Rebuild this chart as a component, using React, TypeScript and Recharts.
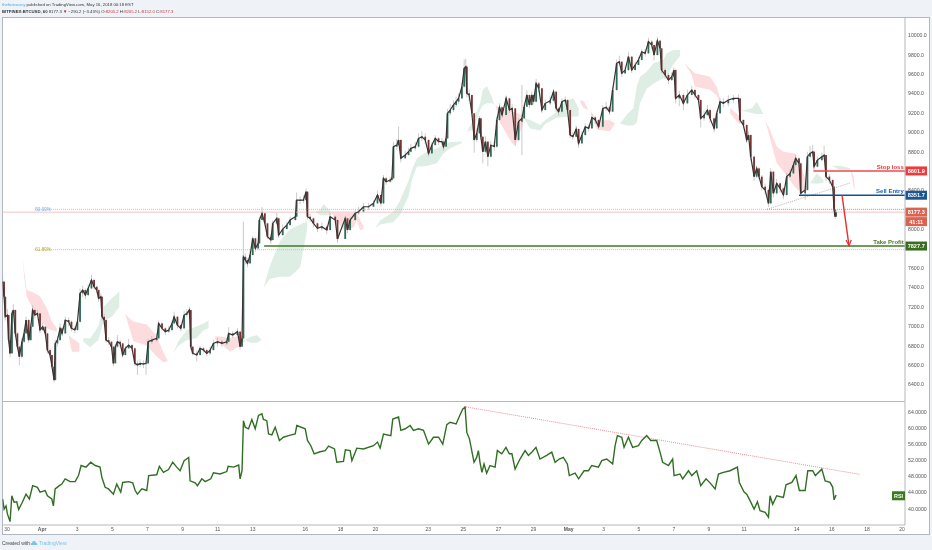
import React from 'react';
import { ComposedChart, Line, Bar, Area, XAxis, YAxis, ReferenceDot } from 'recharts';

// ---- time axis (days since 30 March) ----
const tickDays = [0, 2, 4, 6, 8, 10, 12, 14, 17, 19, 21, 24, 26, 28, 30, 32, 34, 36, 38, 40, 42, 45, 47, 49, 51];
const tickLabels = ['30', 'Apr', '3', '5', '7', '9', '11', '13', '16', '18', '20', '23', '25', '27', '29', 'May', '3', '5', '7', '9', '11', '14', '16', '18', '20'];
const priceTicks = [6400, 6600, 6800, 7000, 7200, 7400, 7600, 8000, 8400, 8800, 9000, 9200, 9400, 9600, 9800, 10000];
const rsiTicks = [40, 44, 48, 52, 56, 60, 64];

// ---- candles ----
const candleDays = [
  -0.25, -0.17, -0.1, 0.02, 0.09, 0.17, 0.28, 0.36, 0.47, 0.59,
  0.7, 0.85, 0.97, 1.08, 1.23, 1.35, 1.46, 1.58, 1.73, 1.88,
  2.03, 2.18, 2.3, 2.45, 2.56, 2.68, 2.75, 2.87, 3.02, 3.13,
  3.32, 3.51, 3.67, 3.86, 4.01, 4.16, 4.31, 4.46, 4.62, 4.81,
  4.96, 5.11, 5.22, 5.34, 5.41, 5.53, 5.64, 5.79, 5.95, 6.06,
  6.17, 6.29, 6.44, 6.59, 6.74, 6.93, 7.12, 7.28, 7.43, 7.58,
  7.77, 7.92, 8.04, 8.25, 8.53, 8.64, 8.83, 9.02, 9.21, 9.4,
  9.52, 9.71, 9.9, 10.09, 10.24, 10.39, 10.47, 10.58, 10.81, 11.0,
  11.19, 11.38, 11.57, 11.76, 11.99, 12.24, 12.52, 12.63, 12.86, 13.13,
  13.28, 13.39, 13.47, 13.58, 13.7, 13.85, 14.0, 14.15, 14.31, 14.38,
  14.53, 14.69, 14.84, 15.03, 15.14, 15.37, 15.48, 15.71, 15.94, 16.13,
  16.43, 16.5, 16.7, 16.89, 17.04, 17.12, 17.27, 17.46, 17.69, 17.94,
  18.22, 18.41, 18.7, 18.83, 19.27, 19.4, 19.55, 19.84, 20.03, 20.31,
  20.6, 20.88, 21.11, 21.3, 21.45, 21.6, 21.83, 21.93, 22.02, 22.21,
  22.31, 22.44, 22.69, 22.88, 23.01, 23.26, 23.45, 23.64, 23.83, 24.02,
  24.21, 24.4, 24.59, 24.78, 24.87, 25.02, 25.1, 25.25, 25.44, 25.59,
  25.73, 25.92, 26.05, 26.14, 26.2, 26.33, 26.49, 26.62, 26.77, 26.92,
  27.0, 27.11, 27.26, 27.4, 27.57, 27.76, 27.91, 28.06, 28.21, 28.44,
  28.63, 28.78, 28.96, 29.15, 29.34, 29.47, 29.62, 29.77, 29.9, 30.0,
  30.15, 30.3, 30.48, 30.67, 30.95, 31.14, 31.29, 31.43, 31.62, 31.81,
  31.94, 32.09, 32.24, 32.43, 32.57, 32.76, 32.95, 33.14, 33.33, 33.52,
  33.71, 33.95, 34.14, 34.33, 34.51, 34.74, 34.89, 35.03, 35.22, 35.41,
  35.6, 35.79, 35.98, 36.17, 36.36, 36.55, 36.74, 36.87, 37.06, 37.21,
  37.3, 37.5, 37.69, 37.88, 38.0, 38.1, 38.31, 38.54, 38.77, 39.02,
  39.2, 39.4, 39.53, 39.72, 39.91, 40.06, 40.29, 40.44, 40.63, 40.82,
  41.1, 41.39, 41.68, 41.77, 41.96, 42.15, 42.25, 42.38, 42.57, 42.72,
  42.85, 43.01, 43.2, 43.39, 43.52, 43.67, 43.86, 44.05, 44.24, 44.43,
  44.62, 44.81, 44.94, 45.13, 45.23, 45.48, 45.61, 45.76, 45.91, 45.99,
  46.18, 46.43, 46.56, 46.67, 46.86, 47.05, 47.13, 47.19, 47.24,
];
const candleCloses = [
  7460, 7305, 7099, 7116, 6858, 6721, 7133, 7168, 6927, 6790,
  6687, 6841, 6927, 7065, 6858, 6996, 7168, 7116, 7133, 6962,
  6996, 6927, 6755, 6704, 6583, 6446, 6824, 6858, 6979, 6927,
  7065, 7047, 6979, 6962, 7047, 7340, 7374, 7322, 7391, 7477,
  7408, 7374, 7288, 7305, 7099, 7065, 6858, 6841, 6790, 6618,
  6790, 6841, 6824, 6704, 6773, 6807, 6773, 6618, 6601, 6618,
  6611, 6618, 6841, 6858, 6876, 7030, 6979, 6945, 6962, 7030,
  7099, 7013, 6979, 7116, 7133, 7168, 6790, 6721, 6704, 6773,
  6755, 6721, 6755, 6824, 6841, 6824, 6841, 6927, 6910, 6945,
  6790, 6876, 7717, 7683, 7649, 7735, 7907, 7803, 7855, 8096,
  8165, 8061, 7924, 7890, 8061, 8113, 7941, 8003, 8044, 8096,
  8130, 8302, 8302, 8302, 8388, 8130, 8113, 8062, 8010, 8027,
  7993, 8130, 8096, 7900, 8113, 7993, 8096, 8165, 8182, 8233,
  8233, 8268, 8354, 8268, 8526, 8491, 8508, 8526, 8852, 8869,
  8921, 8732, 8766, 8800, 8835, 8852, 8938, 8955, 8921, 8783,
  8869, 8938, 8904, 8904, 8852, 8938, 9196, 9230, 9282, 9316,
  9350, 9471, 9660, 9677, 9402, 9385, 9196, 8921, 8990, 9144,
  8955, 8800, 8904, 8749, 8869, 8852, 9127, 9258, 9179, 9350,
  9230, 9247, 8921, 9110, 9144, 9264, 9385, 9282, 9385, 9316,
  9505, 9454, 9230, 9299, 9326, 9419, 9247, 9213, 9316, 9333,
  9230, 8972, 8955, 9034, 8886, 8972, 9058, 9041, 9154, 9127,
  9058, 9247, 9258, 9213, 9436, 9711, 9728, 9608, 9642, 9780,
  9642, 9694, 9746, 9831, 9814, 9935, 9900, 9797, 9945, 9866,
  9642, 9591, 9539, 9574, 9642, 9350, 9385, 9299, 9385, 9436,
  9385, 9333, 9144, 9178, 9230, 9144, 9041, 9196, 9316, 9299,
  9333, 9350, 9350, 9127, 9075, 8921, 8972, 8749, 8543, 8628,
  8543, 8440, 8405, 8268, 8594, 8371, 8474, 8422, 8354, 8543,
  8577, 8663, 8732, 8680, 8371, 8405, 8749, 8783, 8800, 8646,
  8714, 8749, 8766, 8543, 8508, 8440, 8199, 8130, 8177,
];
const candleHighs = [
  7530, 7470, 7310, 7180, 7120, 6870, 7160, 7230, 7175, 6940,
  6800, 6880, 6970, 7100, 7075, 7030, 7215, 7180, 7170, 7140,
  7040, 7000, 6935, 6770, 6710, 6590, 6860, 6900, 7030, 6990,
  7100, 7090, 7060, 7000, 7080, 7390, 7420, 7390, 7430, 7530,
  7490, 7420, 7380, 7340, 7310, 7130, 7070, 6890, 6850, 6800,
  6820, 6910, 6860, 6830, 6800, 6870, 6815, 6780, 6650, 6660,
  6650, 6640, 6870, 6900, 6930, 7060, 7040, 6990, 7000, 7060,
  7150, 7105, 7020, 7160, 7180, 7200, 7170, 6800, 6750, 6800,
  6790, 6765, 6790, 6860, 6880, 6860, 6880, 6990, 6950, 6980,
  6950, 6900, 8080, 7750, 7700, 7780, 7930, 7915, 7880, 8130,
  8230, 8175, 8070, 7950, 8090, 8170, 8120, 8050, 8080, 8130,
  8170, 8380, 8340, 8350, 8420, 8395, 8160, 8120, 8070, 8070,
  8040, 8170, 8140, 8100, 8140, 8120, 8130, 8200, 8230, 8270,
  8270, 8300, 8400, 8360, 8560, 8540, 8540, 8550, 8900, 8930,
  9060, 8930, 8810, 8840, 8880, 8900, 8990, 9010, 8990, 8930,
  8900, 8970, 8950, 8940, 8915, 8960, 9240, 9290, 9330, 9370,
  9400, 9510, 9752, 9760, 9680, 9440, 9390, 9200, 9040, 9170,
  9150, 8960, 8960, 8910, 8910, 8900, 9160, 9300, 9270, 9380,
  9355, 9290, 9250, 9150, 9488, 9300, 9430, 9390, 9420, 9390,
  9550, 9520, 9460, 9340, 9370, 9440, 9425, 9260, 9350, 9370,
  9340, 9235, 9000, 9070, 9040, 9010, 9090, 9080, 9190, 9170,
  9135, 9280, 9310, 9270, 9470, 9750, 9790, 9735, 9680, 9830,
  9785, 9730, 9780, 9860, 9860, 9975, 9950, 9905, 9985, 9950,
  9870, 9660, 9610, 9620, 9670, 9650, 9430, 9400, 9440, 9480,
  9450, 9395, 9340, 9220, 9280, 9240, 9150, 9230, 9350, 9350,
  9380, 9385, 9390, 9355, 9135, 9085, 9010, 8980, 8760, 8660,
  8640, 8560, 8470, 8420, 8630, 8600, 8520, 8490, 8430, 8580,
  8620, 8700, 8770, 8740, 8690, 8450, 8800, 8860, 8870, 8810,
  8750, 8790, 8860, 8770, 8570, 8520, 8450, 8210, 8205,
];
const candleLows = [
  7400, 7280, 7060, 7040, 6820, 6680, 6720, 7100, 6890, 6760,
  6600, 6670, 6830, 6920, 6830, 6850, 6990, 7080, 7100, 6930,
  6950, 6900, 6720, 6680, 6560, 6420, 6440, 6790, 6850, 6900,
  6920, 7000, 6950, 6930, 6955, 7040, 7300, 7280, 7310, 7380,
  7380, 7340, 7250, 7270, 7060, 7020, 6830, 6810, 6760, 6590,
  6620, 6780, 6780, 6680, 6700, 6770, 6750, 6590, 6500, 6580,
  6570, 6500, 6610, 6820, 6840, 6870, 6950, 6910, 6930, 6950,
  7020, 6980, 6950, 6975, 7100, 7120, 6760, 6700, 6640, 6700,
  6730, 6690, 6710, 6750, 6790, 6790, 6800, 6835, 6880, 6900,
  6760, 6785, 6870, 7640, 7610, 7645, 7730, 7770, 7790, 7850,
  8090, 8030, 7900, 7850, 7885, 8050, 7910, 7930, 8000, 8040,
  8090, 8125, 8260, 8270, 8290, 8100, 8080, 8020, 7970, 7990,
  7950, 7985, 8060, 7860, 7900, 7960, 7985, 8090, 8150, 8170,
  8200, 8230, 8260, 8240, 8260, 8460, 8480, 8490, 8520, 8820,
  8860, 8690, 8730, 8760, 8790, 8810, 8845, 8910, 8880, 8750,
  8780, 8860, 8870, 8870, 8810, 8845, 8930, 9170, 9210, 9260,
  9290, 9340, 9460, 9600, 9360, 9320, 9160, 8790, 8900, 8980,
  8920, 8680, 8790, 8650, 8740, 8810, 8845, 9120, 9150, 9175,
  9200, 9210, 8860, 8910, 8766, 9140, 9260, 9250, 9275, 9290,
  9310, 9420, 9200, 9225, 9280, 9320, 9210, 9170, 9205, 9300,
  9190, 8940, 8920, 8950, 8840, 8880, 8965, 9010, 9035, 9090,
  9030, 9050, 9220, 9180, 9210, 9430, 9690, 9570, 9600, 9635,
  9610, 9640, 9690, 9740, 9780, 9810, 9860, 9740, 9790, 9830,
  9610, 9550, 9500, 9530, 9570, 9300, 9270, 9230, 9290, 9380,
  9350, 9300, 9050, 9120, 9170, 9100, 9000, 9035, 9190, 9260,
  9270, 9300, 9310, 9090, 9040, 8890, 8915, 8710, 8500, 8530,
  8510, 8400, 8360, 8230, 8260, 8330, 8360, 8380, 8310, 8350,
  8530, 8570, 8650, 8640, 8340, 8300, 8400, 8730, 8750, 8610,
  8640, 8700, 8720, 8500, 8470, 8400, 8160, 8110, 8132,
];

// ---- RSI ----
const rsiDays = [
  -0.25, -0.17, -0.06, 0.02, 0.17, 0.27, 0.4, 0.55, 0.66, 0.85, 1.08, 1.27, 1.46, 1.73, 1.88, 2.17, 2.3, 2.55, 2.64, 2.74,
  2.98, 3.12, 3.31, 3.59, 3.88, 4.07, 4.22, 4.5, 4.77, 5.02, 5.3, 5.4, 5.59, 5.78, 6.06, 6.25, 6.48, 6.59, 6.92, 7.16,
  7.3, 7.43, 7.68, 7.96, 8.07, 8.53, 8.68, 8.91, 9.2, 9.44, 9.67, 9.86, 10.09, 10.35, 10.43, 10.72, 10.85, 11.1, 11.29, 11.61,
  11.76, 12.14, 12.52, 12.6, 12.9, 13.2, 13.28, 13.39, 13.47, 13.57, 13.76, 13.95, 14.14, 14.33, 14.52, 14.61, 14.8, 14.9, 15.09, 15.28,
  15.52, 15.75, 16.04, 16.42, 16.51, 16.99, 17.12, 17.31, 17.5, 17.84, 18.13, 18.32, 18.66, 18.79, 19.17, 19.28, 19.55, 19.65, 19.93, 20.31,
  20.88, 21.11, 21.26, 21.45, 21.87, 21.98, 22.31, 22.44, 22.69, 22.97, 23.16, 23.45, 23.73, 24.02, 24.3, 24.59, 24.83, 25.06, 25.25, 25.59,
  25.78, 25.97, 26.1, 26.2, 26.35, 26.48, 26.61, 26.76, 26.86, 26.95, 27.06, 27.18, 27.33, 27.52, 27.81, 27.94, 28.19, 28.43, 28.62, 28.77,
  28.95, 29.23, 29.52, 29.71, 29.9, 30.14, 30.37, 30.75, 31.04, 31.23, 31.47, 31.7, 31.93, 32.04, 32.37, 32.57, 32.88, 33.13, 33.32, 33.7,
  33.89, 34.17, 34.51, 34.65, 34.78, 35.03, 35.16, 35.41, 35.65, 35.98, 36.17, 36.45, 36.68, 37.02, 37.21, 37.36, 37.69, 37.93, 38.01, 38.35,
  38.5, 38.83, 39.02, 39.3, 39.53, 39.83, 40.06, 40.35, 40.54, 40.82, 41.2, 41.62, 41.73, 42.0, 42.15, 42.34, 42.57, 42.76, 42.91, 43.2,
  43.39, 43.48, 43.63, 43.86, 44.24, 44.39, 44.72, 44.96, 45.15, 45.48, 45.63, 45.91, 46.06, 46.43, 46.62, 46.9, 47.05, 47.13, 47.24,
];
const rsiValues = [
  42.4, 39.9, 40.7, 38.7, 36.8, 43.2, 41.6, 41.7, 39.8, 41.4, 43.6, 42.4, 45.7, 45.3, 44.1, 44.5, 43.2, 42.4, 40.7, 44.9,
  45.7, 46.1, 47.4, 46.7, 46.7, 48.2, 50.7, 50.3, 51.5, 50.7, 50.3, 47.8, 45.3, 44.9, 43.6, 46.1, 44.1, 46.5, 46.7, 46.4,
  44.5, 43.6, 44.9, 44.5, 48.2, 48.4, 50.5, 49.0, 49.7, 51.5, 50.3, 49.4, 51.9, 52.7, 46.9, 46.4, 45.7, 47.4, 46.7, 47.4,
  48.9, 48.6, 49.2, 50.5, 50.3, 50.8, 47.4, 49.4, 61.8, 60.2, 59.8, 62.1, 59.8, 63.1, 63.5, 62.1, 61.8, 58.5, 58.3, 60.2,
  56.9, 57.7, 58.1, 58.5, 60.6, 59.8, 56.9, 55.6, 53.6, 54.1, 54.4, 55.5, 54.8, 51.5, 51.7, 54.6, 54.4, 51.9, 55.0, 54.8,
  55.6, 56.5, 55.0, 58.5, 58.1, 62.2, 62.7, 59.4, 59.8, 60.6, 59.4, 59.8, 59.4, 56.0, 57.7, 57.7, 56.0, 60.8, 61.4, 61.0,
  62.9, 64.7, 65.1, 58.9, 57.3, 54.4, 51.5, 52.7, 54.4, 51.5, 49.0, 51.1, 48.8, 50.7, 50.3, 54.4, 53.6, 55.2, 53.6, 53.6,
  49.8, 52.3, 54.4, 53.2, 54.0, 55.2, 52.3, 53.2, 54.0, 51.5, 52.3, 52.7, 51.1, 48.2, 48.8, 47.4, 49.4, 49.4, 50.7, 50.3,
  51.9, 52.3, 51.1, 55.6, 58.1, 57.7, 55.2, 57.7, 55.2, 55.6, 56.9, 58.1, 56.9, 56.9, 54.0, 51.5, 50.7, 52.3, 48.2, 48.6,
  47.4, 49.4, 48.2, 49.4, 45.7, 47.4, 46.4, 44.9, 48.6, 49.0, 49.4, 50.3, 46.5, 44.1, 43.6, 42.0, 39.9, 41.7, 39.5, 39.1,
  37.9, 43.2, 41.1, 43.2, 42.8, 45.9, 46.5, 48.2, 44.5, 44.5, 49.4, 49.4, 48.2, 49.8, 46.9, 46.5, 45.3, 42.2, 43.4,
];
const rsiTrend: number[][] = [[26.04, 65.3], [48.6, 48.5]];

// ---- Ichimoku cloud blobs: [day, low, high] ----
const greenBlobs: number[][][] = [
  [[4.35, 6841, 6880], [4.73, 6784, 6875], [5.2, 6860, 7000], [5.49, 7050, 7200], [5.97, 7100, 7290], [6.4, 7200, 7360]],
  [[9.48, 6730, 6730], [9.77, 6800, 6850], [10.24, 6860, 6960], [10.81, 6880, 7000], [11.19, 6960, 7030], [11.48, 6980, 7060]],
  [[13.57, 6860, 6860], [13.85, 6830, 6890], [14.23, 6830, 6910], [14.52, 6860, 6860]],
  [[14.61, 7400, 7400], [14.99, 7490, 7630], [15.56, 7510, 7880], [16.13, 7510, 8000], [16.7, 7610, 8050], [17.1, 8000, 8080]],
  [[17.56, 8180, 8180], [17.84, 8145, 8200], [18.03, 8145, 8260], [18.41, 8145, 8190], [18.5, 8160, 8160]],
  [[20.98, 8010, 8010], [21.26, 8050, 8090], [22.02, 8075, 8180], [22.4, 8150, 8300], [22.88, 8340, 8500], [23.07, 8508, 8611], [23.35, 8646, 8732], [23.92, 8653, 8800], [24.49, 8680, 8835], [24.87, 8783, 8869], [25.25, 8835, 8900], [25.92, 8890, 8905]],
  [[26.2, 9007, 9007], [26.58, 9030, 9127], [26.96, 9230, 9300], [27.11, 9280, 9436], [27.34, 9300, 9477], [27.63, 9300, 9367], [27.76, 9282, 9282]],
  [[29.43, 9154, 9154], [29.81, 9040, 9127], [30.38, 9020, 9075], [30.67, 9085, 9127], [31.33, 9150, 9213], [31.9, 9160, 9330], [32.28, 9160, 9350], [32.57, 9165, 9247]],
  [[34.93, 9090, 9090], [35.31, 9070, 9180], [35.69, 9070, 9247], [35.88, 9100, 9470], [36.07, 9300, 9574], [36.45, 9450, 9625], [36.83, 9500, 9711], [37.4, 9560, 9745], [37.59, 9580, 9814], [37.97, 9700, 9850], [38.35, 9790, 9850]],
  [[41.87, 9223, 9223], [42.44, 9200, 9247], [42.72, 9190, 9316], [43.1, 9190, 9190]],
  [[45.76, 8474, 8474], [46.14, 8470, 8577], [46.52, 8480, 8508]],
  [[47.0, 8656, 8656], [47.47, 8610, 8656], [48.04, 8610, 8630]],
];
const redBlobs: number[][][] = [
  [[0.89, 7718, 7718], [0.97, 7511, 7580], [1.12, 7305, 7374], [1.5, 7168, 7350], [1.88, 7082, 7310], [2.26, 6979, 7190], [2.55, 6960, 7050], [2.83, 6944, 6979]],
  [[3.5, 6910, 6910], [3.69, 6738, 6880], [4.12, 6738, 6825]],
  [[6.73, 7133, 7133], [6.92, 7010, 7090], [7.2, 6850, 7050], [7.96, 6800, 7020], [8.53, 6690, 6900], [8.91, 6630, 6730], [9.14, 6640, 6650]],
  [[11.86, 6870, 6900], [12.71, 6740, 6880], [13.28, 6800, 6900], [13.57, 6850, 6860]],
  [[18.5, 8171, 8171], [18.7, 8096, 8171], [19.17, 8000, 8171], [19.74, 8020, 8171], [19.93, 8100, 8165], [20.12, 7990, 8100], [20.31, 8000, 8030]],
  [[27.82, 9282, 9282], [28.1, 9100, 9245], [28.58, 8950, 9230], [28.86, 8870, 9213], [29.05, 8900, 9196], [29.43, 9100, 9179]],
  [[32.62, 9325, 9325], [32.85, 9250, 9325], [33.14, 9230, 9230]],
  [[33.23, 9230, 9230], [33.61, 9030, 9120], [33.99, 9020, 9125], [34.36, 9010, 9125], [34.65, 9090, 9090]],
  [[38.58, 9718, 9718], [39.0, 9600, 9642], [39.2, 9470, 9609], [40.06, 9440, 9574], [40.44, 9380, 9470], [40.63, 9300, 9350]],
  [[41.2, 9200, 9247], [41.68, 9090, 9178], [41.81, 9110, 9110]],
  [[43.2, 9127, 9127], [43.48, 8940, 9024], [43.86, 8680, 8852], [44.24, 8600, 8800], [44.91, 8430, 8783], [45.19, 8390, 8680], [45.57, 8400, 8474]],
  [[48.08, 8612, 8612], [48.23, 8450, 8558], [48.33, 8405, 8405]],
];

// ---- drawn levels ----
const LAST_PRICE = 8177.3;
const STOP_LOSS = 8601.9;
const SELL_ENTRY = 8351.7;
const TAKE_PROFIT = 7827.7;
const FIB_50 = 8206;
const FIB_618 = 7790;
const supportTrend: number[][] = [[43.3, 8206], [48.03, 8477]];
const sellArrow: number[][] = [[47.58, 8351.7], [47.98, 7830]];
const sellArrowHead: number[][] = [[47.81, 7890], [47.98, 7830], [48.11, 7890]];

// ---- layout ----
const DOMAIN: [number, number] = [-0.26, 51.17];
const FONT = '"Liberation Sans", Arial, sans-serif';
const AXIS = '#b3b7bf';

const candles = candleDays.map((d, i) => ({
  d,
  open: i === 0 ? candleCloses[0] : candleCloses[i - 1],
  close: candleCloses[i],
  high: candleHighs[i],
  low: candleLows[i],
  range: [candleLows[i], candleHighs[i]],
}));
const rsiData = rsiDays.map((d, i) => ({ d, rsi: rsiValues[i] }));
const toPts = (a: number[][]) => a.map(([d, v]) => ({ d, v }));
const toBlob = (a: number[][]) => a.map(([d, lo, hi]) => ({ d, r: [lo, hi] }));
const two = (d0: number, d1: number, v: number) => [{ d: d0, v }, { d: d1, v }];

const Candle = (p: any) => {
  const { x, y, width, height, payload } = p;
  const { open, close, high, low } = payload;
  const span = high - low || 1;
  const yOf = (v: number) => y + ((high - v) / span) * height;
  const cx = x + width / 2;
  const up = close >= open;
  const top = yOf(Math.max(open, close));
  const bot = yOf(Math.min(open, close));
  return (
    <g>
      <line x1={cx} x2={cx} y1={y} y2={y + height} stroke="#b4b4b4" strokeWidth={0.7} />
      <rect x={cx - 0.9} y={top} width={1.8} height={Math.max(bot - top, 0.6)} fill={up ? '#2f6d58' : '#7a3434'} />
    </g>
  );
};

const Tag = (text: string, bg: string, dy = 0) => (p: any) => (
  <g>
    <rect x={p.cx + 0.5} y={p.cy - 4.5 + dy} width={21.5} height={9} fill={bg} />
    <text x={p.cx + 11.2} y={p.cy + 2 + dy} textAnchor="middle" fontSize={5.6} fontWeight={700} fontFamily={FONT} fill="#fff">{text}</text>
  </g>
);
const Caption = (text: string, fill: string, size: number, anchor: string, dy: number, bold: boolean) => (p: any) => (
  <text x={p.cx} y={p.cy + dy} textAnchor={anchor} fontSize={size} fontWeight={bold ? 700 : 400} fontFamily={FONT} fill={fill}>{text}</text>
);

const XTick = (p: any) => {
  const label = tickLabels[tickDays.indexOf(p.payload.value)];
  const bold = label === 'Apr' || label === 'May';
  return (
    <text x={p.x} y={p.y + 6} textAnchor="middle" fontSize={5} fontWeight={bold ? 700 : 400} fontFamily={FONT} fill="#555">{label}</text>
  );
};

export default function App() {
  return (
    <div style={{ position: 'absolute', left: 0, top: 0, width: 932, height: 550, background: '#eff3f8', overflow: 'hidden', fontFamily: FONT, filter: 'blur(0.3px)' }}>
      <div style={{ position: 'absolute', left: 2, top: 2, fontSize: 4.25, lineHeight: '6px', color: '#333', whiteSpace: 'nowrap' }}>
        <span style={{ color: '#48a9e6' }}>theforexarcy</span> published on TradingView.com, May 16, 2018 00:18 EST
      </div>
      <div style={{ position: 'absolute', left: 2, top: 8.6, fontSize: 4.25, lineHeight: '6px', color: '#333', whiteSpace: 'nowrap' }}>
        <b>BITFINEX:BTCUSD, 60</b> 8177.3 <span style={{ color: '#a01818' }}>▼</span> −290.2 (−3.43%) O:<span style={{ color: '#c8383c' }}>8205.2</span> H:<span style={{ color: '#c8383c' }}>8205.2</span> L:<span style={{ color: '#c8383c' }}>8152.0</span> C:<span style={{ color: '#c8383c' }}>8177.3</span>
      </div>

      <div style={{ position: 'absolute', left: 2, top: 17, width: 928, height: 518, background: '#fff', boxSizing: 'border-box', border: '1px solid #b3b7bf' }} />
      <div style={{ position: 'absolute', left: 2, top: 401, width: 903, height: 1, background: '#b3b7bf' }} />

      <div style={{ position: 'absolute', left: 0, top: 17 }}>
        <ComposedChart width={930} height={384.5} data={candles} margin={{ top: 0, right: 0, bottom: 0, left: 2.5 }}>
          <XAxis hide type="number" dataKey="d" domain={DOMAIN} allowDataOverflow />
          <YAxis yAxisId={0} orientation="right" width={25} type="number" domain={[6225, 10189]} ticks={priceTicks} interval={0}
            tickFormatter={(v: number) => v.toFixed(1)} tick={{ fontSize: 5.2, fill: '#555', fontFamily: FONT, textAnchor: 'start' }}
            tickLine={false} tickSize={0} tickMargin={3} axisLine={{ stroke: AXIS }} allowDataOverflow />
          {greenBlobs.map((b, i) => (
            <Area key={'g' + i} data={toBlob(b)} dataKey="r" type="linear" stroke="none" fill="#dfeee4" fillOpacity={1} dot={false} activeDot={false} isAnimationActive={false} />
          ))}
          {redBlobs.map((b, i) => (
            <Area key={'r' + i} data={toBlob(b)} dataKey="r" type="linear" stroke="none" fill="#fcdcde" fillOpacity={1} dot={false} activeDot={false} isAnimationActive={false} />
          ))}
          <Line data={two(1.6, 43.3, FIB_50)} dataKey="v" stroke="#9cc8ea" strokeWidth={1} strokeDasharray="1 1" dot={false} isAnimationActive={false} />
          <Line data={two(43.3, 51.17, FIB_50)} dataKey="v" stroke="#95a595" strokeWidth={1} strokeDasharray="1 1" dot={false} isAnimationActive={false} />
          <Line data={two(-0.26, 51.17, LAST_PRICE)} dataKey="v" stroke="#f3bcbc" strokeWidth={0.9} dot={false} isAnimationActive={false} />
          <Line data={two(1.6, 51.17, FIB_618)} dataKey="v" stroke="#d4c95a" strokeWidth={1} strokeDasharray="1 1" dot={false} isAnimationActive={false} />
          <Line data={toPts(supportTrend)} dataKey="v" stroke="#9a9a9a" strokeWidth={0.8} strokeDasharray="1 1.2" dot={false} isAnimationActive={false} />
          <Line dataKey="close" stroke="#3a3333" strokeWidth={1.2} dot={false} isAnimationActive={false} />
          <Bar dataKey="range" barSize={2} shape={Candle} isAnimationActive={false} />
          <Line data={two(14.65, 51.17, TAKE_PROFIT)} dataKey="v" stroke="#3f7a24" strokeWidth={1.6} dot={false} isAnimationActive={false} />
          <Line data={two(45.95, 51.17, STOP_LOSS)} dataKey="v" stroke="#f04848" strokeWidth={1.6} dot={false} isAnimationActive={false} />
          <Line data={two(45.13, 51.17, SELL_ENTRY)} dataKey="v" stroke="#14528f" strokeWidth={1.6} dot={false} isAnimationActive={false} />
          <Line data={toPts(sellArrow)} dataKey="v" stroke="#e53030" strokeWidth={1.4} dot={false} isAnimationActive={false} />
          <Line data={toPts(sellArrowHead)} dataKey="v" stroke="#e53030" strokeWidth={1.2} dot={false} isAnimationActive={false} />
          <ReferenceDot x={1.6} y={FIB_50} r={0} ifOverflow="visible" shape={Caption('50.00%', '#7fb0d6', 4.7, 'start', 1.7, false)} />
          <ReferenceDot x={1.6} y={FIB_618} r={0} ifOverflow="visible" shape={Caption('61.80%', '#b5a93a', 4.7, 'start', 1.7, false)} />
          <ReferenceDot x={51.1} y={STOP_LOSS} r={0} ifOverflow="visible" shape={Caption('Stop loss', '#ee3434', 6, 'end', -2, true)} />
          <ReferenceDot x={51.1} y={SELL_ENTRY} r={0} ifOverflow="visible" shape={Caption('Sell Entry', '#1c5fae', 6, 'end', -2, true)} />
          <ReferenceDot x={51.1} y={TAKE_PROFIT} r={0} ifOverflow="visible" shape={Caption('Take Profit', '#4f7a2c', 6, 'end', -2, true)} />
          <ReferenceDot x={51.17} y={STOP_LOSS} r={0} ifOverflow="visible" shape={Tag('8601.9', '#f03a3a')} />
          <ReferenceDot x={51.17} y={SELL_ENTRY} r={0} ifOverflow="visible" shape={Tag('8351.7', '#1a568f')} />
          <ReferenceDot x={51.17} y={LAST_PRICE} r={0} ifOverflow="visible" shape={Tag('8177.3', '#d9634e')} />
          <ReferenceDot x={51.17} y={LAST_PRICE} r={0} ifOverflow="visible" shape={Tag('41:11', '#d9634e', 9.5)} />
          <ReferenceDot x={51.17} y={TAKE_PROFIT} r={0} ifOverflow="visible" shape={Tag('7827.7', '#3a6c22')} />
        </ComposedChart>
      </div>

      <div style={{ position: 'absolute', left: 0, top: 401.5 }}>
        <ComposedChart width={930} height={134} data={rsiData} margin={{ top: 0, right: 0, bottom: 0, left: 2.5 }}>
          <XAxis type="number" dataKey="d" domain={DOMAIN} allowDataOverflow ticks={tickDays} interval={0} height={11}
            tick={XTick} tickLine={false} tickSize={0} tickMargin={0} axisLine={{ stroke: AXIS }} />
          <YAxis orientation="right" width={25} type="number" domain={[35.96, 66.43]} ticks={rsiTicks} interval={0}
            tickFormatter={(v: number) => v.toFixed(4)} tick={{ fontSize: 5.2, fill: '#555', fontFamily: FONT, textAnchor: 'start' }}
            tickLine={false} tickSize={0} tickMargin={3} axisLine={{ stroke: AXIS }} allowDataOverflow />
          <Line data={toPts(rsiTrend)} dataKey="v" stroke="#ee8a96" strokeWidth={1} strokeDasharray="1 1" dot={false} isAnimationActive={false} />
          <Line dataKey="rsi" stroke="#2f6f22" strokeWidth={1.4} dot={false} isAnimationActive={false} />
          <ReferenceDot x={51.17} y={43.2} r={0} ifOverflow="visible" shape={(p: any) => (
            <g>
              <rect x={p.cx - 13} y={p.cy - 4.5} width={13} height={9} fill="#3a7a1e" />
              <text x={p.cx - 6.5} y={p.cy + 2} textAnchor="middle" fontSize={5.4} fontWeight={700} fontFamily={FONT} fill="#fff">RSI</text>
            </g>
          )} />
        </ComposedChart>
      </div>

      <div style={{ position: 'absolute', left: 2, top: 540, fontSize: 5, lineHeight: '7px', color: '#444', whiteSpace: 'nowrap' }}>
        Created with
        <svg width="8" height="6" style={{ position: 'absolute', left: 28, top: 0 }}>
          <path d="M1 5 Q0 3 2 3 Q2 1 4 1 Q6 1 6 3 Q8 3 7 5 Z" fill="#7cc1e8" />
        </svg>
        <span style={{ position: 'absolute', left: 37, top: 0, color: '#7cc1e8' }}>TradingView</span>
      </div>
    </div>
  );
}
